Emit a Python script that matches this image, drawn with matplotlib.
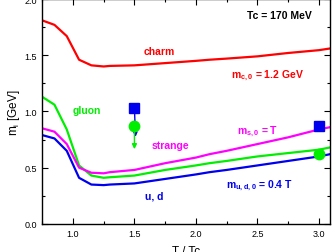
import matplotlib.pyplot as plt
from matplotlib.ticker import MultipleLocator

plt.rcParams['font.family'] = ['Liberation Sans', 'DejaVu Sans']
plt.rcParams['mathtext.fontset'] = 'custom'
plt.rcParams['mathtext.rm'] = 'Liberation Sans'
plt.rcParams['mathtext.bf'] = 'Liberation Sans:bold'

# curve data (T/Tc, mass in GeV)
t = [0.75, 0.85, 0.95, 1.05, 1.15, 1.25, 1.30, 1.5, 1.75, 2.0, 2.11, 2.25, 2.5, 2.75, 3.0, 3.09]
m_charm = [1.81, 1.77, 1.67, 1.46, 1.41, 1.40, 1.405, 1.41, 1.43, 1.45, 1.46, 1.47, 1.49, 1.52, 1.545, 1.56]
m_gluon = [1.13, 1.06, 0.84, 0.52, 0.43, 0.41, 0.415, 0.43, 0.48, 0.52, 0.54, 0.56, 0.60, 0.63, 0.66, 0.68]
m_strange = [0.85, 0.82, 0.71, 0.50, 0.455, 0.45, 0.46, 0.48, 0.54, 0.59, 0.62, 0.65, 0.71, 0.77, 0.84, 0.86]
m_ud = [0.79, 0.76, 0.65, 0.41, 0.35, 0.345, 0.35, 0.36, 0.40, 0.44, 0.46, 0.48, 0.52, 0.56, 0.60, 0.62]

# lattice points
sq_x = [1.5, 3.0]
sq_y = [1.03, 0.87]
circ_x = [1.5, 3.0]
circ_y = [0.875, 0.62]

fig = plt.figure(figsize=(3.32, 2.53), dpi=100)
ax = fig.add_axes([0.127, 0.111, 0.867, 0.889])

ax.plot(t, m_charm, color='#ff0000', lw=1.6)
ax.plot(t, m_gluon, color='#00ee00', lw=1.6)
ax.plot(t, m_strange, color='#ff00ff', lw=1.6)
ax.plot(t, m_ud, color='#0000ee', lw=1.6)

# blue line / arrow and green arrow at T = 1.5 Tc
ax.annotate('', xy=(sq_x[0] + 0.01, 0.75), xytext=(sq_x[0], sq_y[0]),
            arrowprops=dict(arrowstyle='-|>', color='#0000ee', lw=1.0, mutation_scale=6))
ax.annotate('', xy=(circ_x[0], 0.64), xytext=(circ_x[0], circ_y[0]),
            arrowprops=dict(arrowstyle='-|>', color='#00ee00', lw=1.0, mutation_scale=7))

ax.plot(sq_x, sq_y, 's', color='#0000ee', ms=7, zorder=5)
ax.plot(circ_x, circ_y, 'o', color='#00ee00', ms=7.5, zorder=4)

ax.set_xlim(0.75, 3.09)
ax.set_ylim(0.0, 2.0)
ax.xaxis.set_major_locator(MultipleLocator(0.5))
ax.xaxis.set_minor_locator(MultipleLocator(0.25))
ax.yaxis.set_major_locator(MultipleLocator(0.5))
ax.yaxis.set_minor_locator(MultipleLocator(0.25))
ax.tick_params(which='both', direction='in', top=True, right=True, labelsize=6.5, width=0.8)
ax.tick_params(which='major', length=4)
ax.tick_params(which='minor', length=2.5)
for s in ax.spines.values():
    s.set_linewidth(1.0)

ax.set_xlabel('T / Tc', fontsize=8.5, labelpad=5)
ax.set_ylabel(r'm$_{\rm i}$ [GeV]', fontsize=8.5, labelpad=2)

kw = dict(fontsize=7.5, fontweight='bold', ha='center', va='center')
ax.text(2.68, 1.86, 'Tc = 170 MeV', color='black', **kw)
ax.text(1.70, 1.535, 'charm', color='#ff0000', **kw)
ax.text(2.58, 1.33, r'm$_{\mathbf{c,0}}$ = 1.2 GeV', color='#ff0000', **kw)
ax.text(1.11, 1.01, 'gluon', color='#00ee00', **kw)
ax.text(1.79, 0.705, 'strange', color='#ff00ff', **kw)
ax.text(2.50, 0.83, r'm$_{\mathbf{s,0}}$ = T', color='#ff00ff', **kw)
ax.text(1.66, 0.25, 'u, d', color='#0000ee', **kw)
ax.text(2.52, 0.35, r'm$_{\mathbf{u,d,0}}$ = 0.4 T', color='#0000ee', **kw)

plt.savefig('out.png', dpi=100)
plt.close()
